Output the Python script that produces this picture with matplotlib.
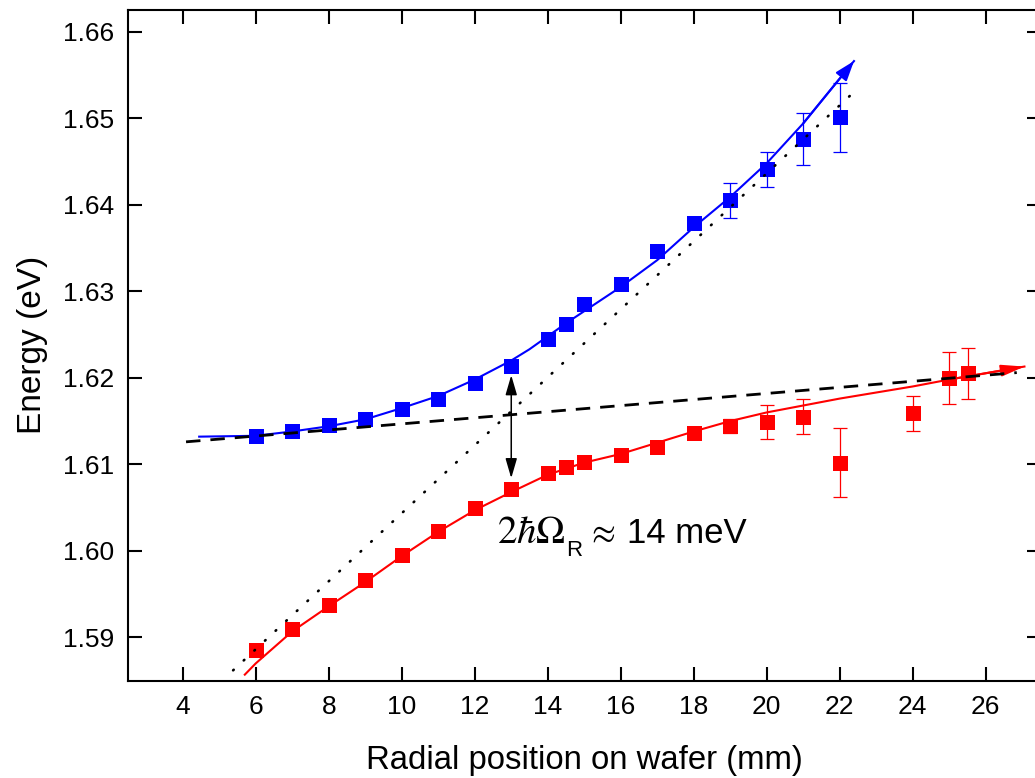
import matplotlib
matplotlib.use("Agg")
import matplotlib.pyplot as plt
from matplotlib.ticker import FormatStrFormatter, MultipleLocator

plt.rcParams['font.family'] = ['Liberation Sans', 'DejaVu Sans']
plt.rcParams['mathtext.fontset'] = 'stix'

# Measured peak energies (eV) versus radial position (mm)
upper_x = [6, 7, 8, 9, 10, 11, 12, 13, 14, 14.5, 15, 16, 17, 18, 19, 20, 21, 22]
upper_e = [1.6133, 1.6139, 1.6145, 1.6152, 1.6164, 1.6175, 1.6194, 1.6214,
           1.6245, 1.6262, 1.6285, 1.6308, 1.6347, 1.6379, 1.6405, 1.6441,
           1.6476, 1.6501]
upper_err = [0, 0, 0, 0, 0, 0, 0, 0, 0, 0, 0, 0, 0, 0, 0.0020, 0.0020,
             0.0030, 0.0040]

lower_x = [6, 7, 8, 9, 10, 11, 12, 13, 14, 14.5, 15, 16, 17, 18, 19, 20, 21,
           22, 24, 25, 25.5]
lower_e = [1.5886, 1.5910, 1.5938, 1.5966, 1.5995, 1.6023, 1.6049, 1.6071,
           1.6090, 1.6097, 1.6103, 1.6111, 1.6120, 1.6136, 1.6144, 1.6149,
           1.6155, 1.6102, 1.6159, 1.6200, 1.6205]
lower_err = [0, 0, 0, 0, 0, 0, 0, 0, 0, 0, 0, 0, 0, 0, 0.0008, 0.0020,
             0.0020, 0.0040, 0.0020, 0.0030, 0.0030]

# Fitted polariton branches
upper_fit_x = [4.45, 6.0, 7.0, 8.0, 9.0, 10.0, 11.0, 12.0, 13.0, 13.5, 14.5,
               16.0, 17.0, 18.0, 19.0, 20.0, 21.0, 22.39]
upper_fit_e = [1.6132, 1.6133, 1.6138, 1.6144, 1.6152, 1.6165, 1.6179, 1.6198,
               1.6220, 1.6233, 1.6263, 1.6305, 1.6336, 1.6374, 1.6409, 1.6448,
               1.6494, 1.6566]
lower_fit_x = [5.70, 6.0, 7.0, 8.0, 9.0, 10.0, 11.0, 12.0, 13.0, 14.0, 15.0,
               16.0, 17.0, 18.0, 19.0, 20.0, 21.0, 22.0, 24.0, 25.0, 27.06]
lower_fit_e = [1.5857, 1.5870, 1.5907, 1.5936, 1.5964, 1.5994, 1.6022, 1.6047,
               1.6068, 1.6088, 1.6102, 1.6112, 1.6125, 1.6138, 1.6150, 1.6160,
               1.6168, 1.6176, 1.6190, 1.6198, 1.6213]

# Uncoupled exciton (dashed) and cavity (dotted) modes
exciton_x = [4.09, 26.85]
exciton_e = [1.6126, 1.6206]
cavity_x = [5.38, 22.41]
cavity_e = [1.5862, 1.6531]

# Splitting at resonance
split_x = 13.0
split_e = [1.6203, 1.6084]
label_x, label_e = 12.62, 1.6009

x_ticks = [4, 6, 8, 10, 12, 14, 16, 18, 20, 22, 24, 26]

W, H = 1035, 778
fig = plt.figure(figsize=(W / 100, H / 100), dpi=100)
ax = fig.add_axes([128 / W, 97.3 / H, (1040.5 - 128) / W, (768 - 97.3) / H])

blue = '#0000ff'
red = '#ff0000'

# Fit curves with arrow heads
ax.plot(upper_fit_x, upper_fit_e, color=blue, lw=1.5, zorder=3)
ax.annotate('', xy=(upper_fit_x[-1], upper_fit_e[-1]),
            xytext=(upper_fit_x[-2], upper_fit_e[-2]),
            arrowprops=dict(arrowstyle='-|>,head_length=1.2,head_width=0.42',
                            color=blue, lw=1.5, shrinkA=0, shrinkB=0,
                            mutation_scale=10), zorder=3)
ax.plot(lower_fit_x, lower_fit_e, color=red, lw=1.5, zorder=3)
ax.annotate('', xy=(lower_fit_x[-1], lower_fit_e[-1]),
            xytext=(lower_fit_x[-2], lower_fit_e[-2]),
            arrowprops=dict(arrowstyle='-|>,head_length=1.4,head_width=0.35',
                            color=red, lw=1.5, shrinkA=0, shrinkB=0,
                            mutation_scale=10), zorder=3)

# Error bars (only where nonzero)
def draw_err(xs, es, errs, color):
    ex = [x for x, d in zip(xs, errs) if d > 0]
    ee = [e for e, d in zip(es, errs) if d > 0]
    ed = [d for d in errs if d > 0]
    ax.errorbar(ex, ee, yerr=ed, fmt='none', ecolor=color, elinewidth=0.9,
                capsize=5, capthick=0.9, zorder=4)

draw_err(upper_x, upper_e, upper_err, blue)
draw_err(lower_x, lower_e, lower_err, red)

ax.plot(upper_x, upper_e, ls='none', marker='s', ms=10.8, mew=0,
        color=blue, zorder=5)
ax.plot(lower_x, lower_e, ls='none', marker='s', ms=10.8, mew=0,
        color=red, zorder=5)

# Uncoupled modes
ax.plot(exciton_x, exciton_e, color='black', lw=2.0,
        ls=(0, (5.2, 3.6)), zorder=6)
ax.plot(cavity_x, cavity_e, color='black', lw=1.9,
        ls=(0, (0.3, 5.2)), dash_capstyle='round', zorder=6)

# Rabi splitting arrow and label (symbol, subscript and value set separately)
ax.annotate('', xy=(split_x, split_e[0]), xytext=(split_x, split_e[1]),
            arrowprops=dict(arrowstyle='<|-|>,head_length=1.2,head_width=0.35',
                            color='black', lw=1.1, shrinkA=0, shrinkB=0,
                            mutation_scale=10), zorder=7)
label_parts = [
    (r'$2\hbar\Omega$', 0.0, 0.0, 28),
    ('R', 49.5, -9.6, 16),
    (r'$\approx$', 63.5, 0.0, 25),
    ('14 meV', 93.5, 0.0, 25),
]
for txt, dx, dy, size in label_parts:
    ax.annotate(txt, xy=(label_x, label_e), xytext=(dx, dy),
                textcoords='offset points', fontsize=size, ha='left',
                va='baseline', zorder=7)

ax.set_xlim(2.5, 27.5)
ax.set_ylim(1.585, 1.6625)
ax.set_xticks(x_ticks)
ax.yaxis.set_major_locator(MultipleLocator(0.01))
ax.yaxis.set_major_formatter(FormatStrFormatter('%.2f'))

ax.tick_params(which='both', direction='in', top=True, right=True,
               length=9.8, width=1.5, labelsize=19, pad=10)
for sp in ax.spines.values():
    sp.set_linewidth(1.5)

ax.set_xlabel('Radial position on wafer (mm)', fontsize=23.7, labelpad=19)
ax.set_ylabel('Energy (eV)', fontsize=24, labelpad=11)

fig.savefig('out.png', dpi=100)
